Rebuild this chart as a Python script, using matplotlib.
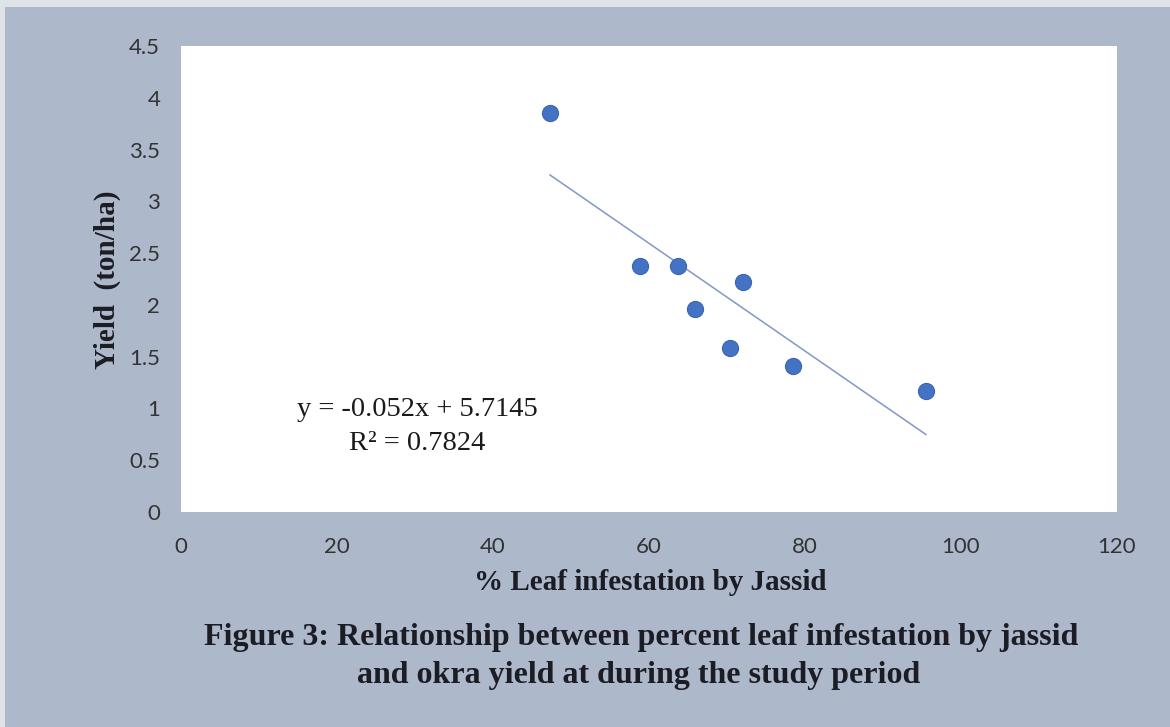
import matplotlib
matplotlib.use("Agg")
import matplotlib.pyplot as plt
from matplotlib.patches import Rectangle
import numpy as np

# data
infestation = [47.3, 58.8, 63.7, 65.9, 70.4, 72.1, 78.5, 95.5]
yield_t = [3.85, 2.38, 2.38, 1.96, 1.58, 2.22, 1.41, 1.17]
slope = -0.052
intercept = 5.7145
r2 = 0.7824
xticks = [0, 20, 40, 60, 80, 100, 120]
yticks = [0, 0.5, 1, 1.5, 2, 2.5, 3, 3.5, 4, 4.5]

bg = '#adb8ca'
fig = plt.figure(figsize=(11.7, 7.27), dpi=100, facecolor='#dfe2e7')
fig.patches.append(Rectangle((5 / 1170, 0), 1, 1 - 7 / 727, transform=fig.transFigure,
                             facecolor=bg, edgecolor='none', zorder=-5))

ax = fig.add_axes([181 / 1170, 1 - 512 / 727, (1117 - 181) / 1170, (512 - 46) / 727])
ax.set_zorder(2)
ax.set_facecolor('white')

ax.scatter(infestation, yield_t, s=135, color='#4472c4', edgecolors='#3a65b5',
           linewidths=0.8, zorder=3)

xs = np.array([min(infestation), max(infestation)])
ax.plot(xs, slope * xs + intercept, color='#8197c6', lw=1.1, zorder=2)

ax.set_xlim(0, 120)
ax.set_ylim(0, 4.5)
ax.set_xticks(xticks)
ax.set_yticks(yticks)
ax.set_xticklabels([str(t) for t in xticks])
ax.set_yticklabels([('%g' % t) for t in yticks])
for s in ax.spines.values():
    s.set_visible(False)
ax.tick_params(axis='x', length=0, pad=18, labelsize=16, labelcolor='#333333')
ax.tick_params(axis='y', length=0, pad=15, labelsize=16, labelcolor='#333333')
for lab in ax.get_xticklabels() + ax.get_yticklabels():
    lab.set_fontfamily('Lato')

# trendline label
ax.text(417 / 1170, 1 - 410 / 727, 'y = %.3fx + %.4f' % (slope, intercept), transform=fig.transFigure,
        ha='center', va='center', fontsize=20.5, family='Liberation Serif', color='#1a1a1a')
ax.text(417 / 1170, 1 - 443 / 727, 'R² = %.4f' % r2, transform=fig.transFigure,
        ha='center', va='center', fontsize=20.5, family='Liberation Serif', color='#1a1a1a')

fig.text(650 / 1170, 1 - 582 / 727, '% Leaf infestation by Jassid', ha='center', va='center',
         fontsize=21, fontweight='bold', family='Liberation Serif', color='#1c1c24')
fig.text(107 / 1170, 1 - 280 / 727, 'Yield  (ton/ha)', ha='center', va='center', rotation=90,
         fontsize=21, fontweight='bold', family='Liberation Serif', color='#1c1c24')

fig.text(641 / 1170, 1 - 637 / 727, 'Figure 3: Relationship between percent leaf infestation by jassid',
         ha='center', va='center', fontsize=23, fontweight='bold', family='Liberation Serif',
         color='#1c1c24')
fig.text(639 / 1170, 1 - 675 / 727, 'and okra yield at during the study period',
         ha='center', va='center', fontsize=23, fontweight='bold', family='Liberation Serif',
         color='#1c1c24')

fig.savefig('out.png', dpi=100, facecolor=fig.get_facecolor())
